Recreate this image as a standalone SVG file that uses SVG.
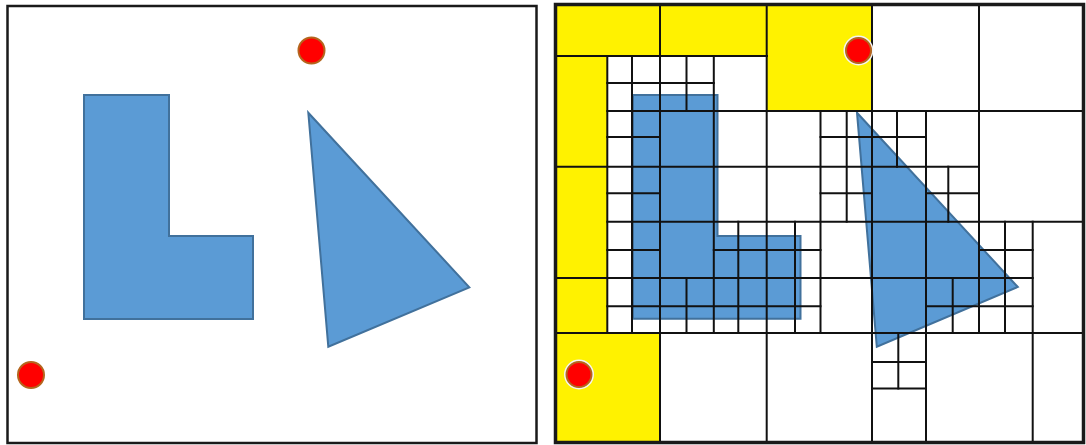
<svg xmlns="http://www.w3.org/2000/svg" width="1086" height="445" viewBox="0 0 1086 445">
<defs>
<style>
.frame{fill:none;stroke:#1a1a1a}
.shape{fill:#5B9BD5;stroke:#41719C;stroke-width:2;stroke-linejoin:miter}
.dot{fill:#FF0000;stroke:#B5651D;stroke-width:2}
.halo{fill:none;stroke:#f4f4f4;stroke-width:2}
.yellow{fill:#FFF200;stroke:none}
.grid line{stroke:#111;stroke-width:2;stroke-linecap:square}
</style>
</defs>
<rect width="1086" height="445" fill="#ffffff"/>

<g id="left-panel">
<rect class="frame" x="7.5" y="6" width="529" height="437" stroke-width="2.5"/>
<polygon id="left-L" class="shape" points="84,95 169,95 169,236 253,236 253,319 84,319"/>
<polygon id="left-triangle" class="shape" points="308.3,112.7 469.3,287.3 328.3,346.7"/>
<circle id="left-dot-top" class="dot" cx="311.5" cy="50.5" r="13"/>
<circle id="left-dot-bottom" class="dot" cx="31" cy="375" r="13"/>
</g>

<g id="right-panel">
<g id="yellow-cells">
<rect class="yellow" x="557" y="6" width="210" height="50"/>
<rect class="yellow" x="767" y="6" width="105" height="105"/>
<rect class="yellow" x="557" y="56" width="50.3" height="277"/>
<rect class="yellow" x="557" y="333" width="103" height="108.5"/>
</g>
<polygon id="right-L" class="shape" points="633,95 717.5,95 717.5,236 800.5,236 800.5,318.7 633,318.7"/>
<polygon id="right-triangle" class="shape" points="857,112.7 1017.8,287 876.8,346.7"/>

<g id="grid" class="grid">
<line x1="557" y1="56" x2="767" y2="56"/>
<line x1="607.3" y1="83" x2="713.8" y2="83"/>
<line x1="607.3" y1="111" x2="1083" y2="111"/>
<line x1="607.3" y1="137" x2="660" y2="137"/>
<line x1="820.5" y1="137" x2="926" y2="137"/>
<line x1="557" y1="166.7" x2="979" y2="166.7"/>
<line x1="607.3" y1="193.3" x2="660" y2="193.3"/>
<line x1="820.5" y1="193.3" x2="872" y2="193.3"/>
<line x1="926" y1="193.3" x2="979" y2="193.3"/>
<line x1="607.3" y1="221.7" x2="1083" y2="221.7"/>
<line x1="607.3" y1="250" x2="660" y2="250"/>
<line x1="713.8" y1="250" x2="820.5" y2="250"/>
<line x1="979" y1="250" x2="1032.7" y2="250"/>
<line x1="557" y1="278" x2="1032.7" y2="278"/>
<line x1="607.3" y1="306.3" x2="820.5" y2="306.3"/>
<line x1="926" y1="306.3" x2="1032.7" y2="306.3"/>
<line x1="557" y1="333" x2="1083" y2="333"/>
<line x1="872" y1="362" x2="926" y2="362"/>
<line x1="872" y1="388.5" x2="926" y2="388.5"/>

<line x1="607.3" y1="56" x2="607.3" y2="333"/>
<line x1="632" y1="56" x2="632" y2="333"/>
<line x1="660" y1="6" x2="660" y2="441"/>
<line x1="686.5" y1="56" x2="686.5" y2="111"/>
<line x1="686.5" y1="278" x2="686.5" y2="333"/>
<line x1="713.8" y1="56" x2="713.8" y2="333"/>
<line x1="738.3" y1="221.7" x2="738.3" y2="333"/>
<line x1="766.7" y1="6" x2="766.7" y2="441"/>
<line x1="795" y1="221.7" x2="795" y2="333"/>
<line x1="820.5" y1="111" x2="820.5" y2="333"/>
<line x1="846.7" y1="111" x2="846.7" y2="221.7"/>
<line x1="872" y1="6" x2="872" y2="441"/>
<line x1="897" y1="111" x2="897" y2="166.7"/>
<line x1="898.3" y1="333" x2="898.3" y2="388.5"/>
<line x1="926" y1="111" x2="926" y2="441"/>
<line x1="948.3" y1="166.7" x2="948.3" y2="221.7"/>
<line x1="952.7" y1="278" x2="952.7" y2="333"/>
<line x1="979" y1="6" x2="979" y2="333"/>
<line x1="1005" y1="221.7" x2="1005" y2="333"/>
<line x1="1032.7" y1="221.7" x2="1032.7" y2="441"/>
</g>

<g id="right-dots">
<circle class="halo" cx="858.5" cy="50.5" r="14"/>
<circle id="right-dot-top" class="dot" cx="858.5" cy="50.5" r="12.5"/>
<circle class="halo" cx="579" cy="374.5" r="14"/>
<circle id="right-dot-bottom" class="dot" cx="579" cy="374.5" r="12.5"/>
</g>
<rect class="frame" x="555.5" y="4.5" width="528" height="438" stroke-width="3.5"/>
</g>
</svg>
